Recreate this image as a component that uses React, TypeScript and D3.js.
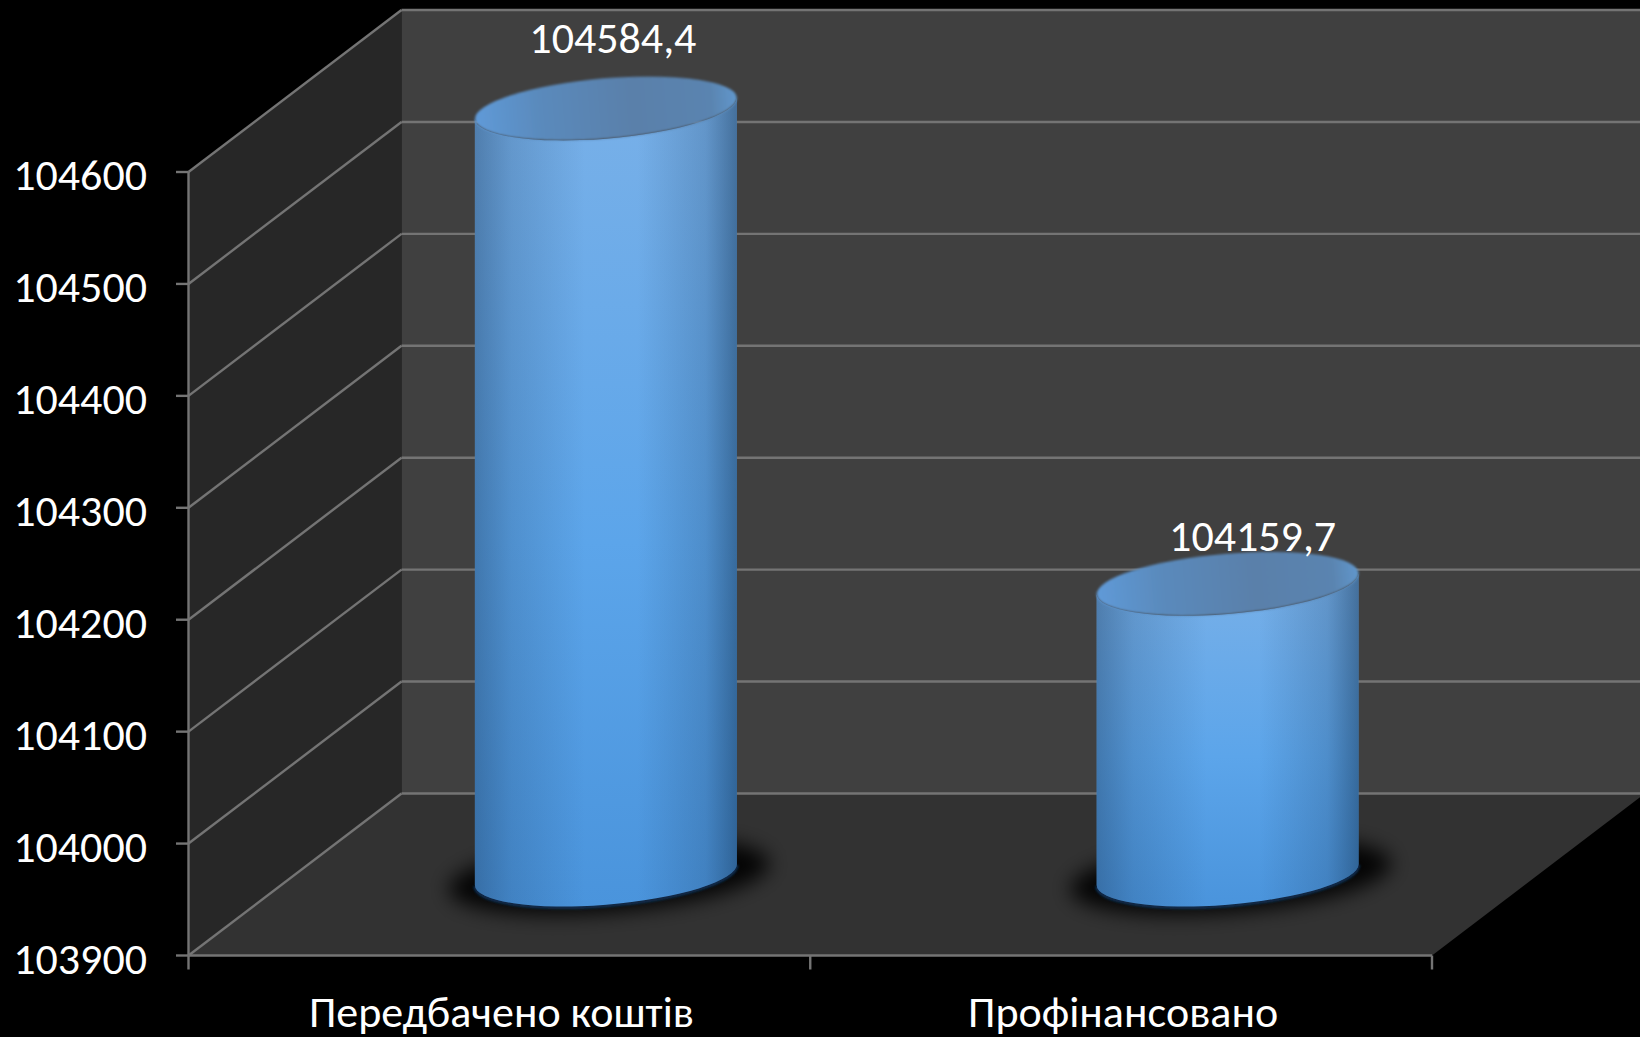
import React from "react";
import * as d3 from "d3";

const categories = ["Передбачено коштів", "Профінансовано"];
const values = [104584.4, 104159.7];
const valueLabels = ["104584,4", "104159,7"];
const yTicks = [103900, 104000, 104100, 104200, 104300, 104400, 104500, 104600];

const W = 1640, H = 1037;
const DX = 213, DY = -162;
const FONT = "Carlito, Calibri, Lato, 'Open Sans', sans-serif";
const LABEL_DX = [7, 25];
const LABEL_DY = [-55, -33];

const y = d3.scaleLinear().domain([103900, 104600]).range([955.5, 172]);
const x = d3.scaleBand<string>().domain(categories).range([188.5, 1432]);

const ROT = -4.8, RA = 131.4, RB = 30.1;
const HALFX = 131, EDGE_DY = 10.5;

const pts = (a: number[][]) => d3.line()(a as [number, number][]) + "Z";

function Cylinder({ cx, top, base }: { cx: number; top: number; base: number }) {
  const L = cx - HALFX, R = cx + HALFX;
  const arc = `A${RA} ${RB} ${ROT} 0`;
  const body = `M${L} ${top + EDGE_DY}L${L} ${base + EDGE_DY}${arc} 0 ${R} ${base - EDGE_DY}L${R} ${top - EDGE_DY}${arc} 1 ${L} ${top + EDGE_DY}Z`;
  const lower = `M${L} ${base + EDGE_DY}${arc} 0 ${R} ${base - EDGE_DY}`;
  return (
    <g>
      <ellipse cx={cx + 3} cy={base + 2} rx={161} ry={36} fill="#000" fillOpacity={0.92} filter="url(#shadowBlur)" transform={`rotate(${ROT} ${cx} ${base})`} />
      <path d={lower} fill="none" stroke="#0d3a66" strokeWidth={3} strokeOpacity={0.8} transform="translate(0 1)" filter="url(#soft)" />
      <path d={body} fill="url(#bodyV)" />
      <path d={body} fill="url(#bodyH)" />
      <ellipse cx={cx} cy={top} rx={RA} ry={RB} fill="url(#cap)" transform={`rotate(${ROT} ${cx} ${top})`} filter="url(#soft)" />
    </g>
  );
}

export default function App() {
  const back = (v: number) => y(v) + DY;
  const xL = 188.5, xR = 1432;
  const yB = y(103900);
  const topV = 104600;
  return (
    <svg width={W} height={H} style={{ position: "absolute", left: 0, top: 0, display: "block", background: "#000" }} fontFamily={FONT}>
      <defs>
        <linearGradient id="bodyV" x1="0" y1="0" x2="0" y2="1">
          <stop offset="0" stopColor="#78b0e8" />
          <stop offset="0.55" stopColor="#5ca5ea" />
          <stop offset="1" stopColor="#4a94dc" />
        </linearGradient>
        <linearGradient id="bodyH" x1="0" y1="0" x2="1" y2="0">
          <stop offset="0" stopColor="#1c3a5c" stopOpacity="0.42" />
          <stop offset="0.14" stopColor="#1c3a5c" stopOpacity="0.2" />
          <stop offset="0.42" stopColor="#1c3a5c" stopOpacity="0" />
          <stop offset="0.62" stopColor="#1c3a5c" stopOpacity="0" />
          <stop offset="0.88" stopColor="#1c3a5c" stopOpacity="0.22" />
          <stop offset="1" stopColor="#12304f" stopOpacity="0.5" />
        </linearGradient>
        <linearGradient id="cap" x1="0" y1="0" x2="1" y2="0">
          <stop offset="0" stopColor="#5f9ad8" />
          <stop offset="0.25" stopColor="#5a8abc" />
          <stop offset="0.6" stopColor="#5a80aa" />
          <stop offset="0.9" stopColor="#5a84b0" />
          <stop offset="1" stopColor="#6097cc" />
        </linearGradient>
        <filter id="shadowBlur" x="-30%" y="-80%" width="160%" height="260%">
          <feGaussianBlur stdDeviation="10" />
        </filter>
        <filter id="soft" x="-5%" y="-20%" width="110%" height="140%">
          <feGaussianBlur stdDeviation="1.2" />
        </filter>
      </defs>

      <path d={pts([[xL, y(topV)], [xL + DX, back(topV)], [xL + DX, back(103900)], [xL, yB]])} fill="#272727" />
      <rect x={xL + DX} y={back(topV)} width={W - xL - DX} height={back(103900) - back(topV)} fill="#404040" />
      <path d={pts([[xL, yB], [xL + DX, yB + DY], [xR + DX, yB + DY], [xR, yB]])} fill="#323232" />

      <g stroke="#747474" strokeWidth={2.4} fill="none">
        {yTicks.map((t) => (
          <g key={t}>
            <line x1={xL + DX} x2={W} y1={back(t)} y2={back(t)} />
            <line x1={xL} x2={xL + DX} y1={y(t)} y2={back(t)} />
            <line x1={176} x2={xL} y1={y(t)} y2={y(t)} />
          </g>
        ))}
        <line x1={xL} x2={xL} y1={y(topV)} y2={yB} />
        <line x1={xL} x2={xR} y1={yB} y2={yB} />
        {[...categories.map((c) => x(c)!), xR].map((tx) => (
          <line key={tx} x1={tx} x2={tx} y1={yB} y2={yB + 14} />
        ))}
      </g>

      {categories.map((c, i) => {
        const cx = x(c)! + x.bandwidth() / 2 + DX / 2;
        return <Cylinder key={c} cx={cx} top={y(values[i]) + DY / 2} base={yB + DY / 2} />;
      })}

      <g fill="#fff" fontSize={44}>
        {yTicks.map((t) => (
          <text key={t} x={147} y={y(t) + 18} textAnchor="end">{t}</text>
        ))}
        {categories.map((c) => (
          <text key={c} x={x(c)! + x.bandwidth() / 2 + 2} y={1027} textAnchor="middle">{c}</text>
        ))}
        {categories.map((c, i) => (
          <text key={c} x={x(c)! + x.bandwidth() / 2 + DX / 2 + LABEL_DX[i]} y={y(values[i]) + DY / 2 + LABEL_DY[i]} textAnchor="middle">{valueLabels[i]}</text>
        ))}
      </g>
    </svg>
  );
}
